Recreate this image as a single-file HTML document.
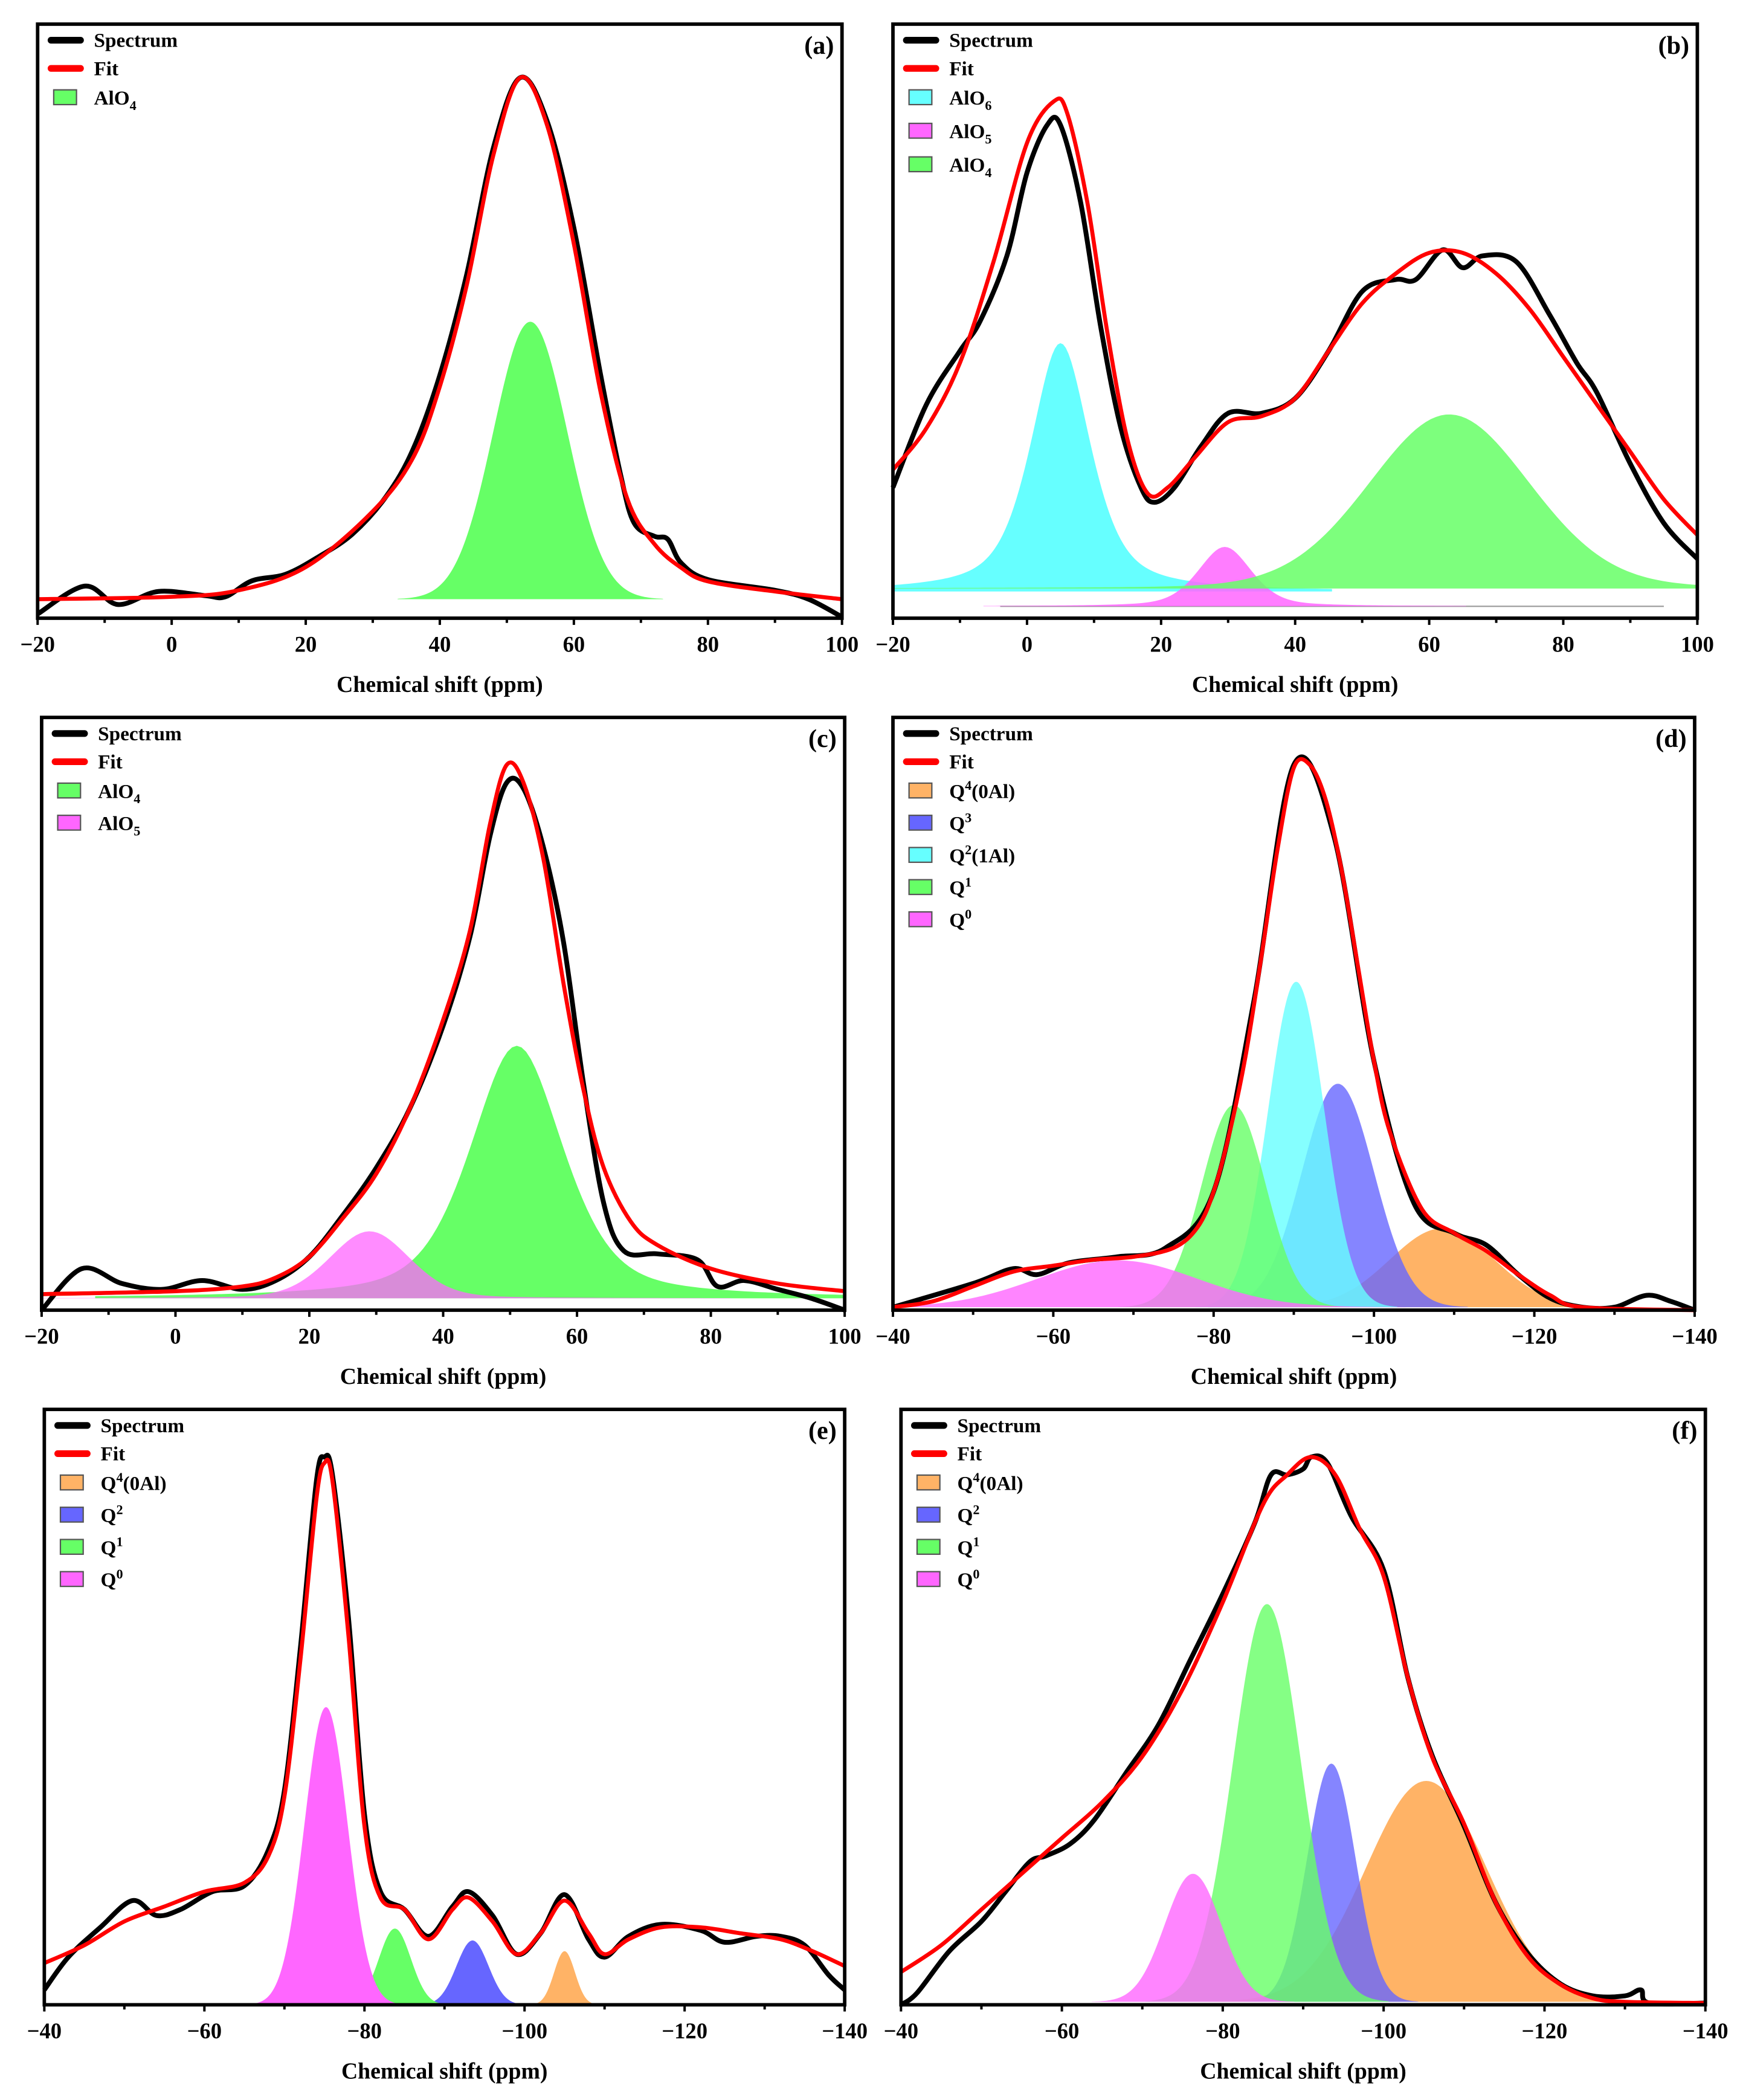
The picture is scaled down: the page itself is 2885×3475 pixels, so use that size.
<!DOCTYPE html>
<html><head><meta charset="utf-8"><style>
html,body{margin:0;padding:0;background:#fff}
svg{display:block}
text{font-family:"Liberation Serif",serif;font-weight:bold;fill:#000}
</style></head><body>
<svg id="fig" width="2885" height="3475" viewBox="0 0 1300 1566" xmlns="http://www.w3.org/2000/svg"></svg>
<script>
// ---------- data (ppm, relative height % of frame) ----------
const specA_x=[-20,-13,-8,-2,5,8,12,17,22,27,32,36,40,44,48,52,56,60,64,67,69,72,74,76,80,90,95,100];
const specA_y=[0.7,5.4,2.3,4.5,3.8,3.6,6.3,7.4,10.4,14.2,20.5,28.4,40.9,57.8,79.2,91,83.7,65.7,40.9,24,16,13.8,13.3,9.3,6.5,4.7,3.2,0.2];
const fitA_x=[-20,0,10,20,30,36,40,44,48,52,56,60,64,68,72,76,80,90,100];
const fitA_y=[3.2,3.6,4.7,8.6,18,27,39,56,78,91,83,63,38,20,12.5,8.5,6.2,4.5,3.2];
const compA_center=[53.5];const compA_amp=[46.7];const compA_sigma=[5.5];const compA_eta=[0];const compA_base=[3.2];

const specB_x=[-20,-15,-10,-7,-3,0,3,5,8,11,14,17,19,22,26,30,35,40,45,50,55,58,62,65,68,73,78,82,85,90,95,100];
const specB_y=[22,36,45,50,61,75,83,83,70,49,32,22,19.5,22,29,34.5,34.5,37,45,55,57,57,62,59,61,60,51,43,38,26,16,10];
const fitB_x=[-20,-15,-10,-5,0,4,6,9,12,15,18,21,25,30,35,40,45,50,55,60,65,70,75,80,85,90,95,100];
const fitB_y=[25,32,43,60,80,87,85,70,48,30,21,22,27,33,34,37,45,53,58,61.5,61.5,58,52,44,36,28,20,14];
const compB_center=[5,29.5,63];const compB_amp=[41.8,10,29.3];const compB_sigma=[4.5,4,12];const compB_eta=[0.6,0.4,0.1];const compB_base=[4.5,2,5];

const specC_x=[-20,-14,-8,-2,4,10,15,20,25,30,35,40,44,47,49.5,52,55,58,61,64,67,72,78,81,85,90,95,100];
const specC_y=[0,7,4.5,3.5,5,3.5,5,9,16,24,34,48,63,80,89,88,78,62,38,18,10,9.5,8.5,4,5,3.5,2,0];
const fitC_x=[-20,0,10,15,20,25,30,35,40,44,47,49.5,52,55,58,61,64,68,72,80,90,100];
const fitC_y=[2.7,3.2,4,5.5,9,15.5,23,34,49,64,82,92,89,76,55,37,24,15,11,7,4.5,3.2];
const compC_center=[51,29];const compC_amp=[42.6,11.3];const compC_sigma=[7,6];const compC_eta=[0.5,0.2];const compC_base=[2,2];

const specD_x=[-40,-50,-55,-58,-62,-68,-74,-80,-85,-90,-95,-100,-105,-110,-114,-118,-122,-126,-130,-134,-137,-140];
const specD_y=[0.5,4.5,7,6,8,9,10.5,20,52,92,80,42,18,13,11,6,2,0.5,0.5,2.5,1.5,0];
const fitD_x=[-40,-45,-50,-55,-60,-65,-70,-75,-78,-80,-82,-84,-86,-88,-90,-92,-94,-96,-98,-100,-102,-106,-110,-114,-118,-122,-126,-140];
const fitD_y=[0.5,1.5,4,6.5,7.5,8.5,9,10.5,14,20,30,43,60,78,91.5,92,86,74,58,42,30,17,13,10,6,2.5,0.5,0];
const compD_center=[-108.5,-95.5,-90.3,-82.5,-68];const compD_amp=[13.3,37.7,54.9,34.1,7.9];const compD_sigma=[6.5,4.5,3.5,4,10];const compD_eta=[0,0,0,0,0];const compD_base=[0.5,0.5,0.5,0.5,0.5];

const specE_x=[-40,-43,-47,-51,-54,-57,-61,-65,-68,-70,-72,-74,-75,-76,-78,-80,-82,-85,-88,-91,-93,-96,-99,-102,-105,-108,-110,-113,-117,-122,-125,-129,-132,-135,-138,-140];
const specE_y=[2.5,8,13,17.5,15,16,19,20,26,36,60,88,92,89,65,32,19,16,11.5,16.5,19,15,8.5,12,18.5,11,8,11.5,13.5,12.5,10.5,11.5,11.5,10,5,2.5];
const fitE_x=[-40,-45,-50,-55,-60,-65,-68,-70,-72,-74,-75,-76,-78,-80,-82,-85,-88,-91,-93,-96,-99,-102,-105,-108,-110,-113,-117,-122,-127,-132,-136,-140];
const fitE_y=[7,10,14,16.5,19,20.5,25,35,58,85,91,88,62,30,18,16,11,16,18,14,8.5,12,17.5,12,8.5,11,13,13,12,11,9,6.5];
const compE_center=[-105,-93.5,-83.8,-75.2];const compE_amp=[9,10.8,12.8,50];const compE_sigma=[1.3,2,2,2.7];const compE_eta=[0,0,0,0];const compE_base=[0,0,0,0];

const specF_x=[-40,-42,-46,-50,-53,-56,-58,-61,-64,-68,-72,-76,-80,-84,-86,-88,-90,-91,-93,-96,-100,-103,-106,-110,-114,-118,-122,-126,-130,-132,-133,-140];
const specF_y=[0,2,9,14,19,24,25,27,31,39,47,58,69,81,89,89,90,92,91,82,73,55,42,30,17,8.5,3.5,1.5,1.5,2.5,0.3,0.3];
const fitF_x=[-40,-45,-50,-55,-60,-65,-70,-75,-80,-85,-88,-91,-94,-97,-100,-103,-106,-110,-114,-118,-122,-126,-130,-140];
const fitF_y=[5.5,10,16,22,28,34,41.7,53,67.6,84,89,92,89,80,72,55,41.7,30.4,17,8,3.4,1.1,0.5,0.3];
const compF_center=[-105.3,-93.5,-85.5,-76.3];const compF_amp=[37.1,40,66.8,21.5];const compF_sigma=[7.5,3,4.2,3.5];const compF_eta=[0,0,0,0];const compF_base=[0.5,0.5,0.5,0.5];

// ---------- layout ----------
const NS="http://www.w3.org/2000/svg";
const svg=document.getElementById('fig');
function el(tag,attrs,parent){const e=document.createElementNS(NS,tag);for(const k in attrs)e.setAttribute(k,attrs[k]);(parent||svg).appendChild(e);return e;}
const COL={AlO4:'#66ff66',AlO5:'#ff66ff',AlO6:'#66ffff',Q4:'#ffb366',Q3:'#6666ff',Q2c:'#66ffff',Q1:'#66ff66',Q0:'#ff66ff',Q2:'#6666ff'};

function smooth(pts){let d='M'+pts[0][0].toFixed(2)+','+pts[0][1].toFixed(2);
 for(let i=0;i<pts.length-1;i++){const p0=pts[i-1]||pts[i],p1=pts[i],p2=pts[i+1],p3=pts[i+2]||p2;
  const c1=[p1[0]+(p2[0]-p0[0])/6,p1[1]+(p2[1]-p0[1])/6],c2=[p2[0]-(p3[0]-p1[0])/6,p2[1]-(p3[1]-p1[1])/6];
  d+='C'+c1[0].toFixed(2)+','+c1[1].toFixed(2)+' '+c2[0].toFixed(2)+','+c2[1].toFixed(2)+' '+p2[0].toFixed(2)+','+p2[1].toFixed(2);}
 return d;}
function pv(x,c,a,s,eta){const g=Math.exp(-((x-c)**2)/(2*s*s));const w=s*1.1774;const l=1/(1+((x-c)/w)**2);return a*((1-eta)*g+eta*l);}

function panel(P){
 const g=el('g',{});
 
 
 const X=v=>P.l+(v-P.x0)/(P.x1-P.x0)*(P.r-P.l);
 const Y=v=>P.b-v/100*(P.b-P.t);
 const lo=Math.min(P.x0,P.x1),hi=Math.max(P.x0,P.x1);
 if(P.gline){const gl=el('line',{x1:X(P.gline[0]),x2:X(P.gline[1]),y1:Y(P.gline[2]),y2:Y(P.gline[2]),stroke:'#999','stroke-width':1},g);
  
  }
 // components
 for(let i=0;i<P.cc.length;i++){
  const c=P.cc[i],a=P.ca[i],s=P.cs[i],eta=P.ce[i],base=P.cb[i];
  const span=eta>0?9*s:3.6*s;const a0=Math.max(lo,c-span),a1=Math.min(hi,c+span);
  const pts=[];const n=160;
  for(let k=0;k<=n;k++){const x=a0+(a1-a0)*k/n;pts.push([X(x),Y(base+pv(x,c,a,s,eta))]);}
  let d='M'+X(a0)+','+Y(base);pts.forEach(p=>d+='L'+p[0].toFixed(2)+','+p[1].toFixed(2));d+='L'+X(a1)+','+Y(base)+'Z';
  const f=el('path',{d:d,fill:P.cols[i],'fill-opacity':(i===0?1:P.op)},g);
  
  
 }
 // spectrum and fit
 const sp=el('path',{d:smooth(P.sx.map((x,i)=>[X(x),Y(P.sy[i])])),fill:'none',stroke:'#000','stroke-width':3.6,'stroke-linejoin':'round'},g);
 
 
 const ft=el('path',{d:smooth(P.fx.map((x,i)=>[X(x),Y(P.fy[i])])),fill:'none',stroke:'#ff0000','stroke-width':3,'stroke-linejoin':'round'},g);
 
 
 // frame
 const fr=el('rect',{x:P.l,y:P.t,width:P.r-P.l,height:P.b-P.t,fill:'none',stroke:'#000','stroke-width':2.6},g);
 
 
 // ticks
 for(let v=lo;v<=hi;v+=10){const x=X(v);const major=(v%20===0);
  el('line',{x1:x,x2:x,y1:P.b,y2:P.b+(major?5:3.5),stroke:'#000','stroke-width':1.8},g);
  if(major){const t=el('text',{x:x,y:P.b+25,'text-anchor':'middle','font-size':16.5},g);t.textContent=(v<0?'\u2212'+(-v):String(v));
   
   }
 }
 const tt=el('text',{x:(P.l+P.r)/2,y:P.b+55,'text-anchor':'middle','font-size':17},g);tt.textContent='Chemical shift (ppm)';
 
 
 const pl=el('text',{x:P.r-6,y:P.t+22,'text-anchor':'end','font-size':19},g);pl.textContent='('+P.id+')';
 
 
 // legend
 const lx=P.l+10;let ly=P.t+12;
 const items=[['line','#000','Spectrum'],['line','#ff0000','Fit']].concat(P.leg);
 items.forEach((it,i)=>{
  const lg=el('g',{},g);
  
  
  if(it[0]==='line'){el('line',{x1:lx,x2:lx+22,y1:ly,y2:ly,stroke:it[1],'stroke-width':5,'stroke-linecap':'round'},lg);}
  else{el('rect',{x:lx+2,y:ly-6,width:17,height:11,fill:it[1],stroke:'#555','stroke-width':1},lg);}
  const t=el('text',{x:lx+32,y:ly+5,'font-size':15},lg);
  t.innerHTML=it[2];
  ly+=(i<2?21:(P.sp||24));
  if(i===1)ly+=1;
 });
}
const sub=(a,b)=>a+'<tspan font-size="10" dy="4">'+b+'</tspan>';
const sup=(a,b,c)=>a+'<tspan font-size="10" dy="-6">'+b+'</tspan><tspan dy="6">'+(c||'')+'</tspan>';

panel({id:'a',l:28,r:628,t:18,b:461,x0:-20,x1:100,sx:specA_x,sy:specA_y,fx:fitA_x,fy:fitA_y,cc:compA_center,ca:compA_amp,cs:compA_sigma,ce:compA_eta,cb:compA_base,cols:[COL.AlO4],names:['AlO4'],op:1,
 leg:[['box',COL.AlO4,sub('AlO','4')]]});
panel({id:'b',l:666,r:1266,t:18,b:461,x0:-20,x1:100,gline:[-4,95,2],sx:specB_x,sy:specB_y,fx:fitB_x,fy:fitB_y,cc:compB_center,ca:compB_amp,cs:compB_sigma,ce:compB_eta,cb:compB_base,cols:[COL.AlO6,COL.AlO5,COL.AlO4],names:['AlO6','AlO5','AlO4'],op:0.85,sp:25,
 leg:[['box',COL.AlO6,sub('AlO','6')],['box',COL.AlO5,sub('AlO','5')],['box',COL.AlO4,sub('AlO','4')]]});
panel({id:'c',l:31,r:630,t:535,b:977,x0:-20,x1:100,sx:specC_x,sy:specC_y,fx:fitC_x,fy:fitC_y,cc:compC_center,ca:compC_amp,cs:compC_sigma,ce:compC_eta,cb:compC_base,cols:[COL.AlO4,COL.AlO5],names:['AlO4','AlO5'],op:0.75,
 leg:[['box',COL.AlO4,sub('AlO','4')],['box',COL.AlO5,sub('AlO','5')]]});
panel({id:'d',l:666,r:1264,t:535,b:977,x0:-40,x1:-140,sx:specD_x,sy:specD_y,fx:fitD_x,fy:fitD_y,cc:compD_center,ca:compD_amp,cs:compD_sigma,ce:compD_eta,cb:compD_base,cols:[COL.Q4,COL.Q3,COL.Q2c,COL.Q1,COL.Q0],names:['Q4','Q3','Q2','Q1','Q0'],op:0.8,
 leg:[['box',COL.Q4,sup('Q','4','(0Al)')],['box',COL.Q3,sup('Q','3')],['box',COL.Q2c,sup('Q','2','(1Al)')],['box',COL.Q1,sup('Q','1')],['box',COL.Q0,sup('Q','0')]]});
panel({id:'e',l:33,r:630,t:1051,b:1495,x0:-40,x1:-140,sx:specE_x,sy:specE_y,fx:fitE_x,fy:fitE_y,cc:compE_center,ca:compE_amp,cs:compE_sigma,ce:compE_eta,cb:compE_base,cols:[COL.Q4,COL.Q2,COL.Q1,COL.Q0],names:['Q4','Q2','Q1','Q0'],op:1,
 leg:[['box',COL.Q4,sup('Q','4','(0Al)')],['box',COL.Q2,sup('Q','2')],['box',COL.Q1,sup('Q','1')],['box',COL.Q0,sup('Q','0')]]});
panel({id:'f',l:672,r:1272,t:1051,b:1495,x0:-40,x1:-140,sx:specF_x,sy:specF_y,fx:fitF_x,fy:fitF_y,cc:compF_center,ca:compF_amp,cs:compF_sigma,ce:compF_eta,cb:compF_base,cols:[COL.Q4,COL.Q2,COL.Q1,COL.Q0],names:['Q4','Q2','Q1','Q0'],op:0.8,
 leg:[['box',COL.Q4,sup('Q','4','(0Al)')],['box',COL.Q2,sup('Q','2')],['box',COL.Q1,sup('Q','1')],['box',COL.Q0,sup('Q','0')]]});
</script>
</body></html>
